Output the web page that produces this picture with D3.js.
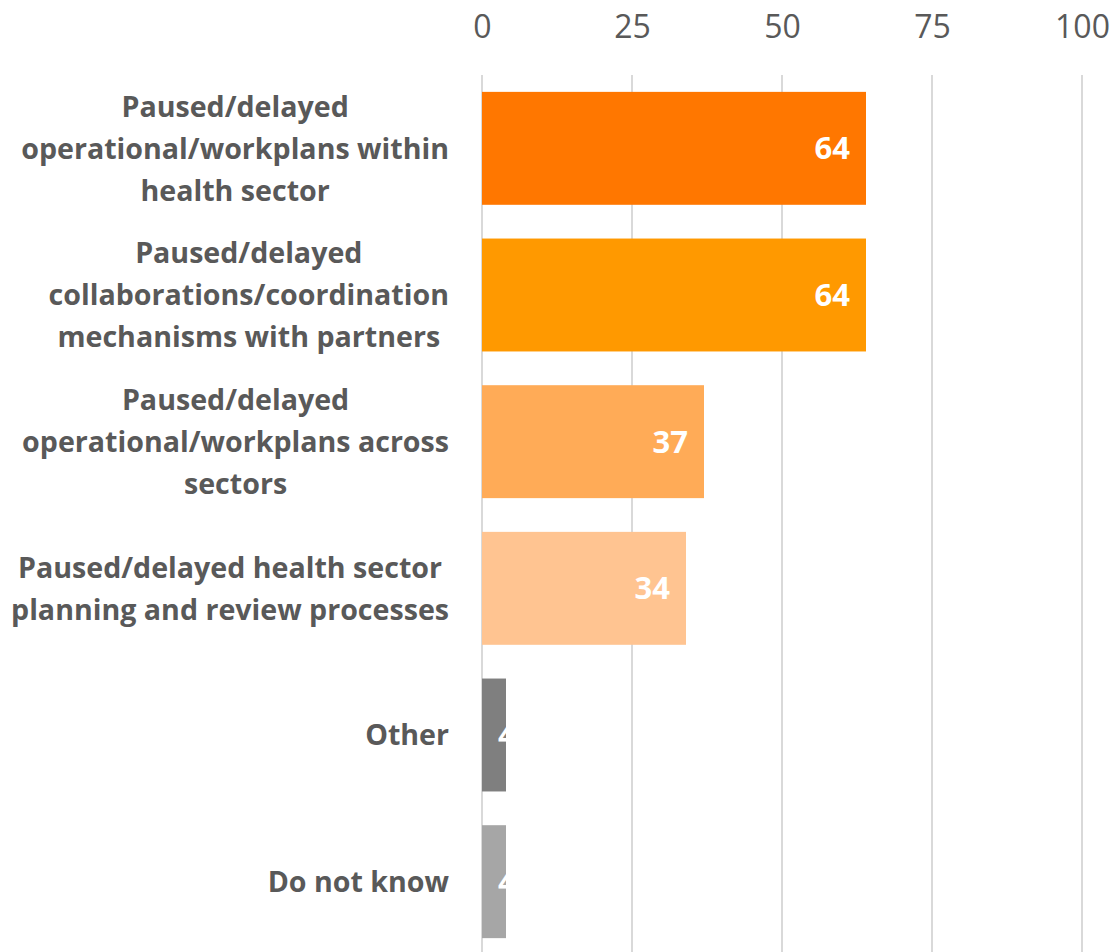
<!DOCTYPE html>
<html>
<head>
<meta charset="utf-8">
<script src="https://cdn.jsdelivr.net/npm/d3@7"></script>
<style>
  html, body { margin: 0; padding: 0; background: #fff; }
  svg { display: block; }
  text { font-family: "Open Sans", Lato, sans-serif; }
</style>
</head>
<body>
<svg id="chart" width="1115" height="952"></svg>
<script>
// Categories (top to bottom), each split into its display lines
const categories = [
  ["Paused/delayed", "operational/workplans within", "health sector"],
  ["Paused/delayed", "collaborations/coordination", "mechanisms with partners"],
  ["Paused/delayed", "operational/workplans across", "sectors"],
  ["Paused/delayed health sector", "planning and review processes"],
  ["Other"],
  ["Do not know"]
];
const values = [64, 64, 37, 34, 4, 4];
const barColors = ["#FF7700", "#FF9900", "#FFAB57", "#FFC491", "#7F7F7F", "#A6A6A6"];
const tickValues = [0, 25, 50, 75, 100];

const svg = d3.select("#chart");
const H = 952;
const plotLeft = 482, plotTop = 75, plotBottom = 955;

const x = d3.scaleLinear().domain([0, 100]).range([plotLeft, plotLeft + 600]);
const y = d3.scaleBand()
  .domain(d3.range(categories.length))
  .range([plotTop, plotBottom])
  .paddingInner(0.23)
  .paddingOuter(0.115);

// Vertical gridlines
svg.append("g")
  .selectAll("line")
  .data(tickValues)
  .join("line")
  .attr("x1", d => x(d)).attr("x2", d => x(d))
  .attr("y1", plotTop).attr("y2", H)
  .attr("stroke", "#D9D9D9")
  .attr("stroke-width", 2);

// Top axis tick labels
const axis = d3.axisTop(x).tickValues(tickValues).tickSize(0).tickPadding(0);
const axisG = svg.append("g")
  .attr("transform", "translate(0,38)")
  .call(axis);
axisG.select(".domain").remove();
axisG.selectAll("text")
  .attr("font-family", "'Open Sans', Lato, sans-serif")
  .attr("font-size", 32)
  .attr("fill", "#595959")
  .attr("dy", 0);

// Bars
svg.append("g")
  .selectAll("rect")
  .data(values)
  .join("rect")
  .attr("x", x(0))
  .attr("y", (d, i) => y(i))
  .attr("width", d => x(d) - x(0))
  .attr("height", y.bandwidth())
  .attr("fill", (d, i) => barColors[i]);

// Value labels, placed inside the bar end (kept clear of the bar base)
const valG = svg.append("g");
values.forEach((v, i) => {
  const t = valG.append("text")
    .attr("font-size", 31)
    .attr("font-weight", "bold")
    .attr("fill", "#FFFFFF")
    .attr("text-anchor", "end")
    .attr("y", y(i) + y.bandwidth() / 2)
    .attr("dy", "0.36em")
    .text(v);
  const w = t.node().getComputedTextLength();
  t.attr("x", Math.max(x(v) - 16, x(0) + 16 + w));
});

// Category labels, lines centred within a right-aligned block
const labelRight = 449;
const lineH = 42;
const labelSize = 28.6;
const labG = svg.append("g");
categories.forEach((lines, i) => {
  const g = labG.append("g");
  const cy = y(i) + y.bandwidth() / 2;
  const texts = lines.map((ln, j) => g.append("text")
    .attr("font-size", labelSize)
    .attr("font-weight", "bold")
    .attr("fill", "#595959")
    .attr("text-anchor", "middle")
    .attr("y", cy + (j - (lines.length - 1) / 2) * lineH)
    .attr("dy", "0.36em")
    .text(ln));
  const maxW = d3.max(texts, t => t.node().getComputedTextLength());
  texts.forEach(t => t.attr("x", labelRight - maxW / 2));
});
</script>
</body>
</html>
